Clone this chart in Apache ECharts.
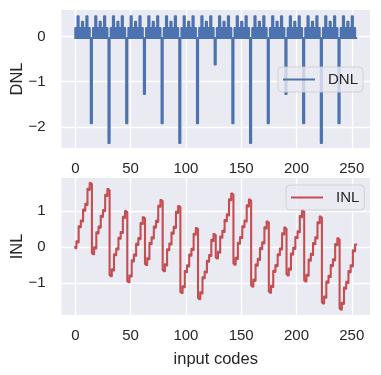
<!DOCTYPE html>
<html><head><meta charset="utf-8">
<script src="https://cdn.jsdelivr.net/npm/echarts@6/dist/echarts.min.js"></script>
<style>html,body{margin:0;padding:0;background:#fff}#c{width:381px;height:375px}</style>
</head><body><div id="c"></div>
<script>
// DNL per input code (0..254)
const dnl = [
-0.03,0.19,-0.03,0.45,-0.03,0.19,-0.03,0.33,-0.03,0.19,-0.03,0.45,-0.03,0.19,-0.03,-1.92,
-0.03,0.19,-0.03,0.45,-0.03,0.19,-0.03,0.33,-0.03,0.19,-0.03,0.45,-0.03,0.19,-0.03,-2.36,
-0.03,0.19,-0.03,0.45,-0.03,0.19,-0.03,0.33,-0.03,0.19,-0.03,0.45,-0.03,0.19,-0.03,-1.92,
-0.03,0.19,-0.03,0.45,-0.03,0.19,-0.03,0.33,-0.03,0.19,-0.03,0.45,-0.03,0.19,-0.03,-1.27,
-0.03,0.19,-0.03,0.45,-0.03,0.19,-0.03,0.33,-0.03,0.19,-0.03,0.45,-0.03,0.19,-0.03,-1.92,
-0.03,0.19,-0.03,0.45,-0.03,0.19,-0.03,0.33,-0.03,0.19,-0.03,0.45,-0.03,0.19,-0.03,-2.36,
-0.03,0.19,-0.03,0.45,-0.03,0.19,-0.03,0.33,-0.03,0.19,-0.03,0.45,-0.03,0.19,-0.03,-1.92,
-0.03,0.19,-0.03,0.45,-0.03,0.19,-0.03,0.33,-0.03,0.19,-0.03,0.45,-0.03,0.19,-0.03,-0.62,
-0.03,0.19,-0.03,0.45,-0.03,0.19,-0.03,0.33,-0.03,0.19,-0.03,0.45,-0.03,0.19,-0.03,-1.92,
-0.03,0.19,-0.03,0.45,-0.03,0.19,-0.03,0.33,-0.03,0.19,-0.03,0.45,-0.03,0.19,-0.03,-2.36,
-0.03,0.19,-0.03,0.45,-0.03,0.19,-0.03,0.33,-0.03,0.19,-0.03,0.45,-0.03,0.19,-0.03,-1.92,
-0.03,0.19,-0.03,0.45,-0.03,0.19,-0.03,0.33,-0.03,0.19,-0.03,0.45,-0.03,0.19,-0.03,-1.27,
-0.03,0.19,-0.03,0.45,-0.03,0.19,-0.03,0.33,-0.03,0.19,-0.03,0.45,-0.03,0.19,-0.03,-1.92,
-0.03,0.19,-0.03,0.45,-0.03,0.19,-0.03,0.33,-0.03,0.19,-0.03,0.45,-0.03,0.19,-0.03,-2.36,
-0.03,0.19,-0.03,0.45,-0.03,0.19,-0.03,0.33,-0.03,0.19,-0.03,0.45,-0.03,0.19,-0.03,-1.92,
-0.03,0.19,-0.03,0.45,-0.03,0.19,-0.03,0.33,-0.03,0.19,-0.03,0.45,-0.03,0.19,-0.03
];
// INL per input code (0..254)
const inl = [
0,-0.03,0.16,0.13,0.58,0.55,0.74,0.71,1.04,1.01,1.2,1.17,1.62,1.59,1.78,1.75,
-0.17,-0.2,-0.01,-0.04,0.41,0.38,0.57,0.54,0.87,0.84,1.03,1.0,1.45,1.42,1.61,1.58,
-0.78,-0.81,-0.62,-0.65,-0.2,-0.23,-0.04,-0.07,0.26,0.23,0.42,0.39,0.84,0.81,1.0,0.97,
-0.95,-0.98,-0.79,-0.82,-0.37,-0.4,-0.21,-0.24,0.09,0.06,0.25,0.22,0.67,0.64,0.83,0.8,
-0.47,-0.5,-0.31,-0.34,0.11,0.08,0.27,0.24,0.57,0.54,0.73,0.7,1.15,1.12,1.31,1.28,
-0.64,-0.67,-0.48,-0.51,-0.06,-0.09,0.1,0.07,0.4,0.37,0.56,0.53,0.98,0.95,1.14,1.11,
-1.25,-1.28,-1.09,-1.12,-0.67,-0.7,-0.51,-0.54,-0.21,-0.24,-0.05,-0.08,0.37,0.34,0.53,0.5,
-1.42,-1.45,-1.26,-1.29,-0.84,-0.87,-0.68,-0.71,-0.38,-0.41,-0.22,-0.25,0.2,0.17,0.36,0.33,
-0.29,-0.32,-0.13,-0.16,0.29,0.26,0.45,0.42,0.75,0.72,0.91,0.88,1.33,1.3,1.49,1.46,
-0.46,-0.49,-0.3,-0.33,0.12,0.09,0.28,0.25,0.58,0.55,0.74,0.71,1.16,1.13,1.32,1.29,
-1.07,-1.1,-0.91,-0.94,-0.49,-0.52,-0.33,-0.36,-0.03,-0.06,0.13,0.1,0.55,0.52,0.71,0.68,
-1.24,-1.27,-1.08,-1.11,-0.66,-0.69,-0.5,-0.53,-0.2,-0.23,-0.04,-0.07,0.38,0.35,0.54,0.51,
-0.76,-0.79,-0.6,-0.63,-0.18,-0.21,-0.02,-0.05,0.28,0.25,0.44,0.41,0.86,0.83,1.02,0.99,
-0.93,-0.96,-0.77,-0.8,-0.35,-0.38,-0.19,-0.22,0.11,0.08,0.27,0.24,0.69,0.66,0.85,0.82,
-1.54,-1.57,-1.38,-1.41,-0.96,-0.99,-0.8,-0.83,-0.5,-0.53,-0.34,-0.37,0.08,0.05,0.24,0.21,
-1.71,-1.74,-1.55,-1.58,-1.13,-1.16,-0.97,-1.0,-0.67,-0.7,-0.51,-0.54,-0.09,-0.12,0.07
];
const xTicks = [0, 50, 100, 150, 200, 250];
const dnlTicks = [-2, -1, 0];
const inlTicks = [-1, 0, 1];
const seriesNames = ['DNL', 'INL'];
const xName = 'input codes';

const FONT = 'Liberation Sans, Arial, sans-serif';
const TXT = '#262626';
const BLUE = '#4C72B0', RED = '#C44E52';
const fmt = v => String(v).replace('-', '\u2212');

function xAxisCfg(idx, showName) {
  return {
    type: 'value', gridIndex: idx, min: -12.5, max: 266.5,
    axisLine: {show: false},
    axisTick: {show: false, customValues: xTicks},
    axisLabel: {customValues: xTicks, color: TXT, fontSize: 15, fontFamily: FONT, margin: 13, formatter: fmt},
    splitLine: {show: true, lineStyle: {color: '#ffffff', width: 1.3}},
    name: showName ? xName : '', nameLocation: 'middle', nameGap: 36, nameMoveOverlap: false,
    nameTextStyle: {color: TXT, fontSize: 16.5, fontFamily: FONT}
  };
}
function yAxisCfg(idx, min, max, ticks, name) {
  return {
    type: 'value', gridIndex: idx, min: min, max: max,
    axisLine: {show: false},
    axisTick: {show: false, customValues: ticks},
    axisLabel: {customValues: ticks, color: TXT, fontSize: 15, fontFamily: FONT, margin: 16, formatter: fmt},
    splitLine: {show: true, lineStyle: {color: '#ffffff', width: 1.3}},
    name: name, nameLocation: 'middle', nameGap: 36, nameMoveOverlap: false,
    nameTextStyle: {color: TXT, fontSize: 16.5, fontFamily: FONT}
  };
}

// step ('pre') polyline drawn through the axes' scales via api.coord
function stepRenderer(values, color) {
  return function (params, api) {
    if (params.dataIndex !== 0) return null;
    const pts = [api.coord([0, values[0]])];
    for (let i = 1; i < values.length; i++) {
      pts.push(api.coord([i - 1, values[i]]));
      pts.push(api.coord([i, values[i]]));
    }
    return {
      type: 'polyline', silent: true,
      shape: {points: pts},
      style: {stroke: color, lineWidth: 2.1, fill: 'none', lineJoin: 'round', lineCap: 'square'}
    };
  };
}

const chart = echarts.init(document.getElementById('c'), null, {renderer: 'canvas'});
chart.setOption({
  animation: false,
  backgroundColor: '#ffffff',
  grid: [
    {left: 61.5, top: 10, width: 308.5, height: 138, show: true, backgroundColor: '#EAEAF2', borderWidth: 0,
     containLabel: false, outerBoundsMode: 'none'},
    {left: 61.5, top: 178, width: 308.5, height: 137, show: true, backgroundColor: '#EAEAF2', borderWidth: 0,
     containLabel: false, outerBoundsMode: 'none'}
  ],
  xAxis: [xAxisCfg(0, false), xAxisCfg(1, true)],
  yAxis: [yAxisCfg(0, -2.47, 0.59, dnlTicks, 'DNL'), yAxisCfg(1, -1.89, 1.92, inlTicks, 'INL')],
  legend: [
    {data: [seriesNames[0]], left: 278, top: 67, icon: 'rect', itemWidth: 32, itemHeight: 2,
     padding: [4, 5, 4, 5], backgroundColor: 'rgba(234,234,242,0.8)', borderColor: 'rgba(204,204,204,0.8)',
     borderWidth: 1, borderRadius: 4, z: 10,
     textStyle: {color: TXT, fontSize: 15, fontFamily: FONT, padding: [0, 0, 0, 8], lineHeight: 17}},
    {data: [seriesNames[1]], left: 286, top: 185, icon: 'rect', itemWidth: 32, itemHeight: 2,
     padding: [4, 5, 4, 5], backgroundColor: 'rgba(234,234,242,0.8)', borderColor: 'rgba(204,204,204,0.8)',
     borderWidth: 1, borderRadius: 4, z: 10,
     textStyle: {color: TXT, fontSize: 15, fontFamily: FONT, padding: [0, 0, 0, 8], lineHeight: 17}}
  ],
  series: [
    {name: seriesNames[0], type: 'custom', coordinateSystem: 'cartesian2d', xAxisIndex: 0, yAxisIndex: 0,
     color: BLUE, itemStyle: {color: BLUE}, encode: {x: 0, y: 1},
     renderItem: stepRenderer(dnl, BLUE),
     data: dnl.map((v, i) => [i, v])},
    {name: seriesNames[1], type: 'custom', coordinateSystem: 'cartesian2d', xAxisIndex: 1, yAxisIndex: 1,
     color: RED, itemStyle: {color: RED}, encode: {x: 0, y: 1},
     renderItem: stepRenderer(inl, RED),
     data: inl.map((v, i) => [i, v])}
  ]
});
</script>
</body></html>
